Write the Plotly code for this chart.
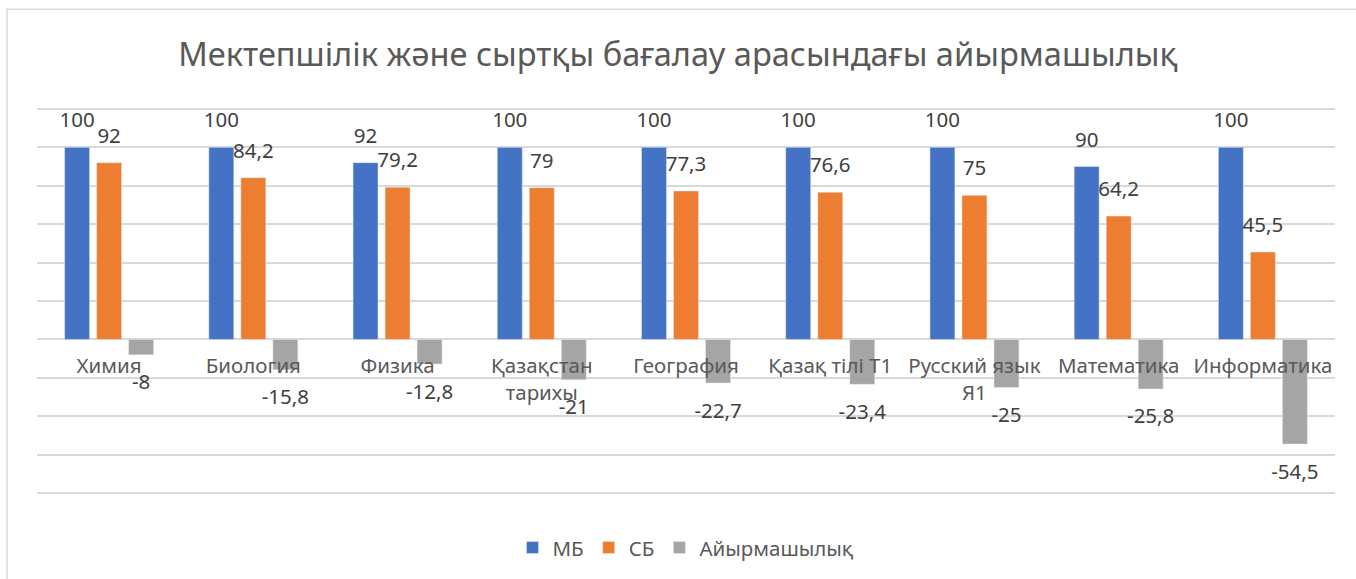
import plotly.graph_objects as go

categories = ["Химия", "Биология", "Физика", "Қазақстан<br>тарихы", "География",
              "Қазақ тілі Т1", "Русский язык<br>Я1", "Математика", "Информатика"]
mb = [100, 100, 92, 100, 100, 100, 100, 90, 100]
sb = [92, 84.2, 79.2, 79, 77.3, 76.6, 75, 64.2, 45.5]
diff = [-8, -15.8, -12.8, -21, -22.7, -23.4, -25, -25.8, -54.5]

names = ["МБ", "СБ", "Айырмашылық"]
colors = ["#4472C4", "#ED7D31", "#A5A5A5"]
series = [mb, sb, diff]

FONT = "Noto Sans"
GRID = "#D9D9D9"
TXT = "#595959"
Y0, Y1 = -81, 121

fig = go.Figure()
for i, (name, vals, col) in enumerate(zip(names, series, colors)):
    fig.add_trace(go.Bar(
        x=categories, y=vals, name=name, marker_color=col,
        offsetgroup=str(i),
    ))
# data labels, shifted with the bars via scattermode="group"
for i, vals in enumerate(series):
    fig.add_trace(go.Scatter(
        x=categories, y=vals, mode="markers+text", offsetgroup=str(i),
        text=[str(v).replace(".", ",") for v in vals],
        textposition="bottom center" if i == 2 else "top center",
        marker=dict(size=22 if i < 2 else 29, opacity=0),
        textfont=dict(size=20.5, color="#404040", family=FONT),
        showlegend=False, hoverinfo="skip", cliponaxis=False,
    ))

fig.update_layout(
    width=1356, height=579,
    barmode="group", bargap=0.334, bargroupgap=0.22,
    scattermode="group", scattergap=0.334,
    plot_bgcolor="white", paper_bgcolor="white",
    margin=dict(l=37, r=21, t=107, b=83),
    font=dict(family=FONT, color=TXT),
    title=dict(text="Мектепшілік және сыртқы бағалау арасындағы айырмашылық",
               x=0.5, xanchor="center", y=1 - 55 / 579, yanchor="middle",
               font=dict(size=32.6, color=TXT, family=FONT)),
    legend=dict(orientation="h", x=0.5, xanchor="center", y=-0.133, yanchor="middle",
                font=dict(size=20.5, color=TXT), itemwidth=30),
)
fig.update_yaxes(range=[Y0, Y1], dtick=20, tick0=0, showticklabels=False,
                 gridcolor=GRID, gridwidth=1.5, zeroline=True,
                 zerolinecolor=GRID, zerolinewidth=1.5, fixedrange=True)
fig.update_xaxes(anchor="free", position=-Y0 / (Y1 - Y0), showline=False, showgrid=False,
                 ticks="", ticklabelstandoff=12, fixedrange=True,
                 tickfont=dict(size=20.5, color=TXT, family=FONT))

# chart-area border, partially outside the captured frame
fig.add_shape(type="rect", xref="paper", yref="paper",
              x0=-30 / 1298, x1=1.02, y0=-0.25, y1=(496 - 9) / 389,
              line=dict(color=GRID, width=1.5), fillcolor="rgba(0,0,0,0)", layer="below")

fig.write_html("out.html", config={"displayModeBar": False},
               post_script="document.body.style.margin='0';")
